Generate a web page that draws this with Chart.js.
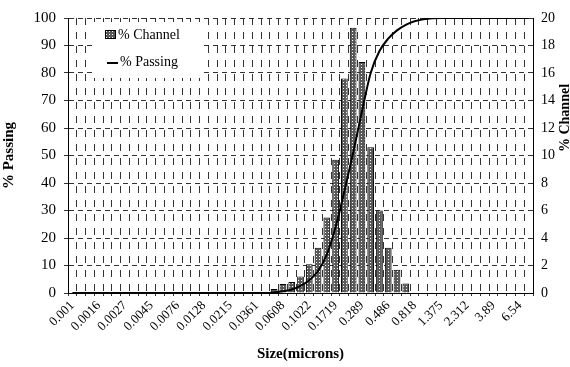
<!DOCTYPE html>
<html>
<head>
<meta charset="utf-8">
<script src="https://cdn.jsdelivr.net/npm/chart.js@4.4.1/dist/chart.umd.min.js"></script>
<style>
  body { margin: 0; background: #fff; }
</style>
</head>
<body>
<canvas id="psdChart" width="570" height="367"></canvas>
<script>
// tick labels shown on the size axis (every 3rd channel)
const sizeTicks = ['0.001', '0.0016', '0.0027', '0.0045', '0.0076', '0.0128', '0.0215', '0.0361', '0.0608',
    '0.1022', '0.1719', '0.289', '0.486', '0.818', '1.375', '2.312', '3.89', '6.54'];
const channelCount = 53;

// % in each channel (right axis)
const channelPct = [
    null, null, null, null, null, null, null, null, null, null,
    null, null, null, null, null, null, null, null, null, null,
    null, null, null, 0.3, 0.65, 0.8, 1.2, 2.1, 3.3, 5.5,
    9.7, 15.6, 19.3, 16.8, 10.6, 6.0, 3.3, 1.7, 0.7, null,
    null, null, null, null, null, null, null, null, null, null,
    null, null, null
];

// cumulative % passing (left axis)
const passingPct = [
    0, 0, 0, 0, 0, 0, 0, 0, 0, 0,
    0, 0, 0, 0, 0, 0, 0, 0, 0, 0,
    0, 0, 0, 0.2, 0.6, 1.3, 2.6, 4.6, 8, 14,
    24, 37, 51, 66, 80, 88, 92.5, 95.5, 97.5, 98.8,
    99.5, 99.9, 100, 100, 100, 100, 100, 100, 100, 100,
    100, 100, 100
];

const leftTicks = { min: 0, max: 100, step: 10 };
const rightTicks = { min: 0, max: 20, step: 2 };

const categories = [];
for (let i = 0; i < channelCount; i++) {
    categories.push(i % 3 === 0 ? (sizeTicks[i / 3] || '') : '');
}

const serif = '"Liberation Serif", "DejaVu Serif", serif';

// stippled fill for the bars
function makePattern() {
    const p = document.createElement('canvas');
    p.width = 3;
    p.height = 3;
    const pc = p.getContext('2d');
    pc.fillStyle = '#5a5a5a';
    pc.fillRect(0, 0, 3, 3);
    pc.fillStyle = '#ffffff';
    pc.fillRect(1, 1, 1, 1);
    return pc.createPattern(p, 'repeat');
}
const barFill = makePattern();

const boxLegend = {
    id: 'boxLegend',
    afterDatasetsDraw(chart) {
        const ctx = chart.ctx;
        ctx.save();
        ctx.fillStyle = '#fff';
        ctx.fillRect(93, 22, 108, 56);
        ctx.fillStyle = barFill;
        ctx.fillRect(105, 30, 11, 9);
        ctx.strokeStyle = '#000';
        ctx.lineWidth = 1;
        ctx.strokeRect(105.5, 30.5, 10, 8);
        ctx.beginPath();
        ctx.moveTo(107, 63);
        ctx.lineTo(118, 63);
        ctx.lineWidth = 2;
        ctx.stroke();
        ctx.fillStyle = '#000';
        ctx.font = '14px ' + serif;
        ctx.textBaseline = 'middle';
        ctx.fillText('% Channel', 118, 35);
        ctx.fillText('% Passing', 120, 62);
        // right axis title, reads bottom to top
        ctx.translate(565, 118);
        ctx.rotate(-Math.PI / 2);
        ctx.font = 'bold 14px ' + serif;
        ctx.textAlign = 'center';
        ctx.fillText('% Channel', 0, 0);
        ctx.restore();
    }
};

new Chart(document.getElementById('psdChart'), {
    data: {
        labels: categories,
        datasets: [
            {
                type: 'line',
                label: '% Passing',
                data: passingPct,
                yAxisID: 'y',
                borderColor: '#000',
                borderWidth: 2,
                pointRadius: 0,
                tension: 0.4,
                cubicInterpolationMode: 'monotone',
                order: 0
            },
            {
                type: 'bar',
                label: '% Channel',
                data: channelPct,
                yAxisID: 'y2',
                backgroundColor: barFill,
                borderColor: '#000',
                borderWidth: 1,
                barPercentage: 0.9,
                categoryPercentage: 0.85,
                order: 1
            }
        ]
    },
    options: {
        responsive: false,
        animation: false,
        layout: { padding: { top: 18, left: 0, right: 0, bottom: 0 } },
        plugins: {
            legend: { display: false },
            tooltip: { enabled: false }
        },
        scales: {
            x: {
                grid: { color: '#333', lineWidth: 1, tickLength: 3 },
                border: { color: '#000', width: 1, dash: [7, 7] },
                ticks: {
                    autoSkip: false,
                    maxRotation: 45,
                    minRotation: 45,
                    padding: 2,
                    color: '#000',
                    font: { family: serif, size: 13 }
                },
                title: {
                    display: true,
                    text: 'Size(microns)',
                    color: '#000',
                    font: { family: serif, size: 15, weight: 'bold' },
                    padding: { top: 0, bottom: 4 }
                },
                afterFit(scale) { scale.height = 74; }
            },
            y: {
                position: 'left',
                min: leftTicks.min,
                max: leftTicks.max,
                grid: { color: '#333', lineWidth: 1, tickLength: 4 },
                border: { color: '#000', width: 1, dash: [5, 4] },
                ticks: {
                    stepSize: leftTicks.step,
                    padding: 8,
                    color: '#000',
                    font: { family: serif, size: 15 }
                },
                title: {
                    display: true,
                    text: '% Passing',
                    color: '#000',
                    font: { family: serif, size: 15, weight: 'bold' },
                    padding: { top: 0, bottom: 0 }
                },
                afterFit(scale) { scale.width = 68; }
            },
            y2: {
                position: 'right',
                min: rightTicks.min,
                max: rightTicks.max,
                grid: { drawOnChartArea: false, tickLength: 0 },
                border: { color: '#000', width: 1 },
                ticks: {
                    stepSize: rightTicks.step,
                    padding: 8,
                    color: '#000',
                    font: { family: serif, size: 14 }
                },
                afterFit(scale) { scale.width = 37; }
            }
        }
    },
    plugins: [boxLegend]
});
</script>
</body>
</html>
